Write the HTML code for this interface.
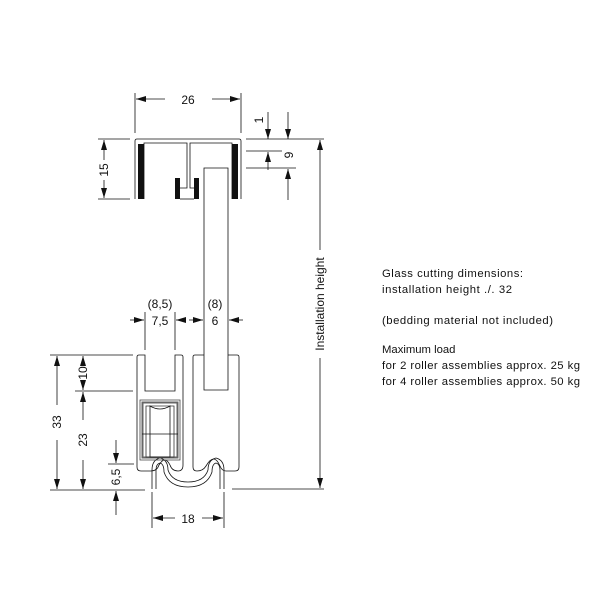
<!DOCTYPE html>
<html><head><meta charset="utf-8"><style>
html,body{margin:0;padding:0;background:#fff}
svg{display:block}
text{font-family:"Liberation Sans",sans-serif;fill:#111}
</style></head><body>
<svg width="600" height="600" viewBox="0 0 600 600" xmlns="http://www.w3.org/2000/svg">
<defs>
<marker id="a" viewBox="0 0 10 6" refX="10" refY="3" markerWidth="10" markerHeight="6" markerUnits="userSpaceOnUse" orient="auto-start-reverse"><path d="M0,0 L10,3 L0,6z" fill="#111"/></marker>
</defs>
<g fill="#111">
<rect x="138" y="144" width="6" height="55"/>
<rect x="232" y="144" width="6" height="55"/>
<rect x="175" y="178" width="5" height="21"/>
<rect x="194" y="178" width="5" height="21"/>
</g>
<g stroke="#111" stroke-width="0.8" fill="none">
<path d="M135,199 V141 Q135,139 137,139 H239 Q241,139 241,141 V199"/>
<path d="M144,199 V143 H187 V188 H180"/>
<path d="M232,199 V143 H190 V188 H194"/>
<path d="M180,199 H194"/>
<path d="M204,390 V168 H228 V390 Z" fill="#fff"/>
<path d="M135,133 V93 M241,133 V93 M98,139 H130 M98,199 H130"/>
<path d="M165,99 H136" marker-end="url(#a)"/><path d="M212,99 H240" marker-end="url(#a)"/>
<path d="M104,160 V140" marker-end="url(#a)"/><path d="M104,180 V198" marker-end="url(#a)"/>
<path d="M246,139 H324 M246,151 H282 M246,168 H296"/>
<path d="M268,112 V139" marker-end="url(#a)"/><path d="M268,170 V152" marker-end="url(#a)"/>
<path d="M288,112 V139" marker-end="url(#a)"/><path d="M288,200 V169" marker-end="url(#a)"/>
<path d="M320,250 V140" marker-end="url(#a)"/><path d="M320,358 V488" marker-end="url(#a)"/>
<path d="M232,489 H324"/>
<path d="M145,312 V350 M175,312 V350"/>
<path d="M137,357 Q137,355 139,355 H145 V391 H175 V355 H181 Q183,355 183,357 V465 Q183,471 178,471 Q172,471 170,465 Q165,455 159,465 Q157,471 151,471 H141 Q137,471 137,467 Z"/>
<path d="M204,355 H195 Q193,355 193,357 V467 Q193,471 197,471 Q203,471 206,466 Q214,452 220,466 Q222,471 226,471 H235 Q239,471 239,467 V357 Q239,355 237,355 H228"/>
<path d="M152,489 V470 Q152,460 160,458 Q168,460 168,470 Q172,482 188,482 Q204,482 208,470 Q208,460 216,458 Q224,460 224,470 V489"/>
<path d="M156,489 V470 Q156,464 160,463 Q164,464 164,472 Q169,487 188,487 Q207,487 212,472 Q212,464 216,463 Q220,464 220,470 V489"/>
<path d="M140,400 H180 V460 H140 Z" stroke="#444"/>
<path d="M142.5,402.5 H177.5 V457.5 H142.5 Z" stroke="#666" stroke-width="2"/>
<path d="M146,406 H174 V457 H146 Z" stroke="#333"/>
<path d="M150,406 Q160,412 170,406 V457 H150 Z"/>
<path d="M142,434 H178"/>
<path d="M50,355 H133 M75,391 H133 M50,490 H145 M108,464 H134"/>
<path d="M57,405 V356" marker-end="url(#a)"/><path d="M57,440 V489" marker-end="url(#a)"/>
<path d="M83,362 V356" marker-end="url(#a)"/><path d="M83,380 V390" marker-end="url(#a)"/>
<path d="M83,420 V392" marker-end="url(#a)"/><path d="M83,460 V489" marker-end="url(#a)"/>
<path d="M116,440 V463" marker-end="url(#a)"/><path d="M116,515 V491" marker-end="url(#a)"/>
<path d="M152,492 V528 M224,492 V528"/>
<path d="M175,518 H153" marker-end="url(#a)"/><path d="M202,518 H223" marker-end="url(#a)"/>
<path d="M130,320 H144" marker-end="url(#a)"/><path d="M186,320 H176" marker-end="url(#a)"/>
<path d="M189,320 H203" marker-end="url(#a)"/><path d="M243,320 H229" marker-end="url(#a)"/>
</g>
<g font-size="12" text-anchor="middle">
<text x="188" y="104">26</text>
<text transform="translate(108,170) rotate(-90)">15</text>
<text transform="translate(263,120) rotate(-90)">1</text>
<text transform="translate(293,155) rotate(-90)">9</text>
<text transform="translate(324,304) rotate(-90)">Installation height</text>
<text x="160" y="308">(8,5)</text>
<text x="160" y="325">7,5</text>
<text x="215" y="308">(8)</text>
<text x="215" y="325">6</text>
<text transform="translate(61,422) rotate(-90)">33</text>
<text transform="translate(87,373) rotate(-90)">10</text>
<text transform="translate(87,440) rotate(-90)">23</text>
<text transform="translate(120,477) rotate(-90)">6,5</text>
<text x="188" y="523">18</text>
</g>
<g font-size="11.3">
<text x="382" y="277" textLength="141">Glass cutting dimensions:</text>
<text x="382" y="293" textLength="130">installation height ./. 32</text>
<text x="382" y="324" textLength="171">(bedding material not included)</text>
<text x="382" y="353">Maximum load</text>
<text x="382" y="369" textLength="198">for 2 roller assemblies approx. 25 kg</text>
<text x="382" y="385" textLength="198">for 4 roller assemblies approx. 50 kg</text>
</g>
</svg>
</body></html>
